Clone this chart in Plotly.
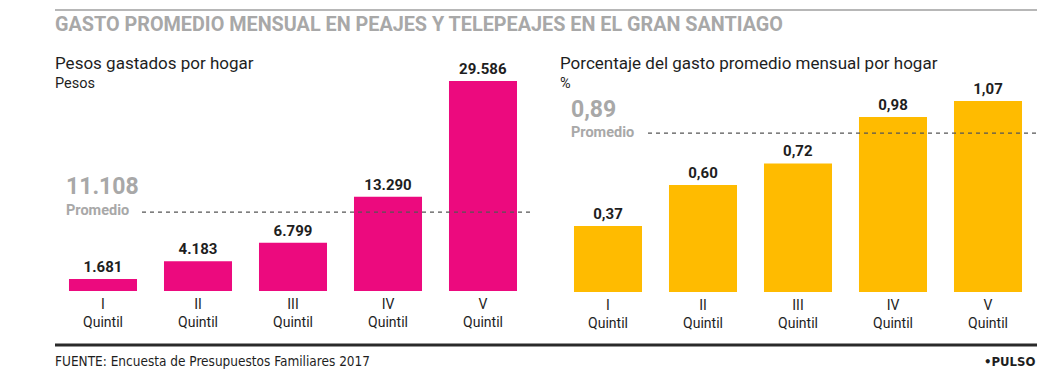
import plotly.graph_objects as go

W, H = 1037, 370

categories = ["I<br>Quintil", "II<br>Quintil", "III<br>Quintil", "IV<br>Quintil", "V<br>Quintil"]
pesos = [1681, 4183, 6799, 13290, 29586]
porcentaje = [0.37, 0.60, 0.72, 0.98, 1.07]
promedio_pesos = 11108
promedio_pct = 0.89

title = "GASTO PROMEDIO MENSUAL EN PEAJES Y TELEPEAJES EN EL GRAN SANTIAGO"
sub_left = "Pesos gastados por hogar"
unit_left = "Pesos"
sub_right = "Porcentaje del gasto promedio mensual por hogar"
unit_right = "%"
source = "FUENTE: Encuesta de Presupuestos Familiares 2017"
brand = "•PULSO"

MAGENTA = "#EC0A7E"
YELLOW = "#FFBB00"
GRAY = "#A8A8A8"
DARK = "#1E1E1E"
FONT = "Roboto"
NARROW = "DejaVu Sans Condensed, Liberation Sans Narrow, Roboto"

def px(x):
    return x / W

def py(y):
    return 1 - y / H

fig = go.Figure()

fig.add_trace(go.Bar(
    x=categories, y=pesos, marker=dict(color=MAGENTA, line=dict(width=0)),
    texttemplate="%{y:,.0f}", textposition="outside", cliponaxis=False,
    textfont=dict(family=FONT, size=15, color=DARK, weight="bold"),
    xaxis="x", yaxis="y", hoverinfo="skip"))

fig.add_trace(go.Bar(
    x=categories, y=porcentaje, marker=dict(color=YELLOW, line=dict(width=0)),
    texttemplate="%{y:.2f}", textposition="outside", cliponaxis=False,
    textfont=dict(family=FONT, size=15, color=DARK, weight="bold"),
    xaxis="x2", yaxis="y2", hoverinfo="skip"))

axis_common = dict(showgrid=False, zeroline=False, showline=False, ticks="",
                   ticklabelstandoff=3,
                   tickfont=dict(family=FONT, size=14, color=DARK), fixedrange=True)

fig.update_layout(
    width=W, height=H, margin=dict(l=0, r=0, t=0, b=0),
    paper_bgcolor="white", plot_bgcolor="white",
    separators=",.", showlegend=False, bargap=0.284,
    xaxis=dict(domain=[px(55.5), px(530.5)], range=[-0.5, 4.5], anchor="y", **axis_common),
    yaxis=dict(domain=[py(291), py(81)], range=[0, 29586], visible=False, fixedrange=True),
    xaxis2=dict(domain=[px(560.5), px(1035.5)], range=[-0.5, 4.5], anchor="y2", **axis_common),
    yaxis2=dict(domain=[py(292), py(101)], range=[0, 1.07], visible=False, fixedrange=True),
)

# average lines (over bars)
fig.add_shape(type="line", xref="paper", yref="y", x0=px(142), x1=px(531),
              y0=promedio_pesos, y1=promedio_pesos,
              line=dict(color="#555555", width=1.2, dash="4px,4px"))
fig.add_shape(type="line", xref="paper", yref="y2", x0=px(648), x1=1,
              y0=promedio_pct, y1=promedio_pct,
              line=dict(color="#555555", width=1.2, dash="4px,4px"))

# top rule and bottom rule
fig.add_shape(type="line", xref="paper", yref="paper", x0=px(55), x1=1, y0=py(10), y1=py(10),
              line=dict(color="#707070", width=1.2))
fig.add_shape(type="line", xref="paper", yref="paper", x0=px(55), x1=1, y0=py(345), y1=py(345),
              line=dict(color="#2A2A2A", width=3))

def ann(text, x, y, size, color, weight="normal", xanchor="left", family=FONT):
    fig.add_annotation(text=text, xref="paper", yref="paper", x=px(x), y=py(y),
                       xanchor=xanchor, yanchor="middle", showarrow=False,
                       font=dict(family=family, size=size, color=color, weight=weight))

ann(title, 53, 24, 19.8, GRAY, "bold")
ann(sub_left, 53, 63, 17, DARK)
ann(unit_left, 53, 83, 14.5, DARK)
ann(sub_right, 558, 63, 17, DARK)
ann(unit_right, 558, 83, 14.5, DARK)

ann(f"{promedio_pesos:,}".replace(",", "."), 64, 186, 23, GRAY, "bold")
ann("Promedio", 64, 210, 14.5, GRAY, "bold")
ann(f"{promedio_pct:.2f}".replace(".", ","), 569, 109, 23, GRAY, "bold")
ann("Promedio", 569, 132, 14.5, GRAY, "bold")

ann(source, 53, 361, 13.5, DARK, family=NARROW)
ann(brand, 1037, 361, 13, DARK, "bold", xanchor="right", family=NARROW)

fig.write_html("out.html", config={"displayModeBar": False, "staticPlot": True},
               post_script="document.body.style.margin='0';document.body.style.overflow='hidden';")
